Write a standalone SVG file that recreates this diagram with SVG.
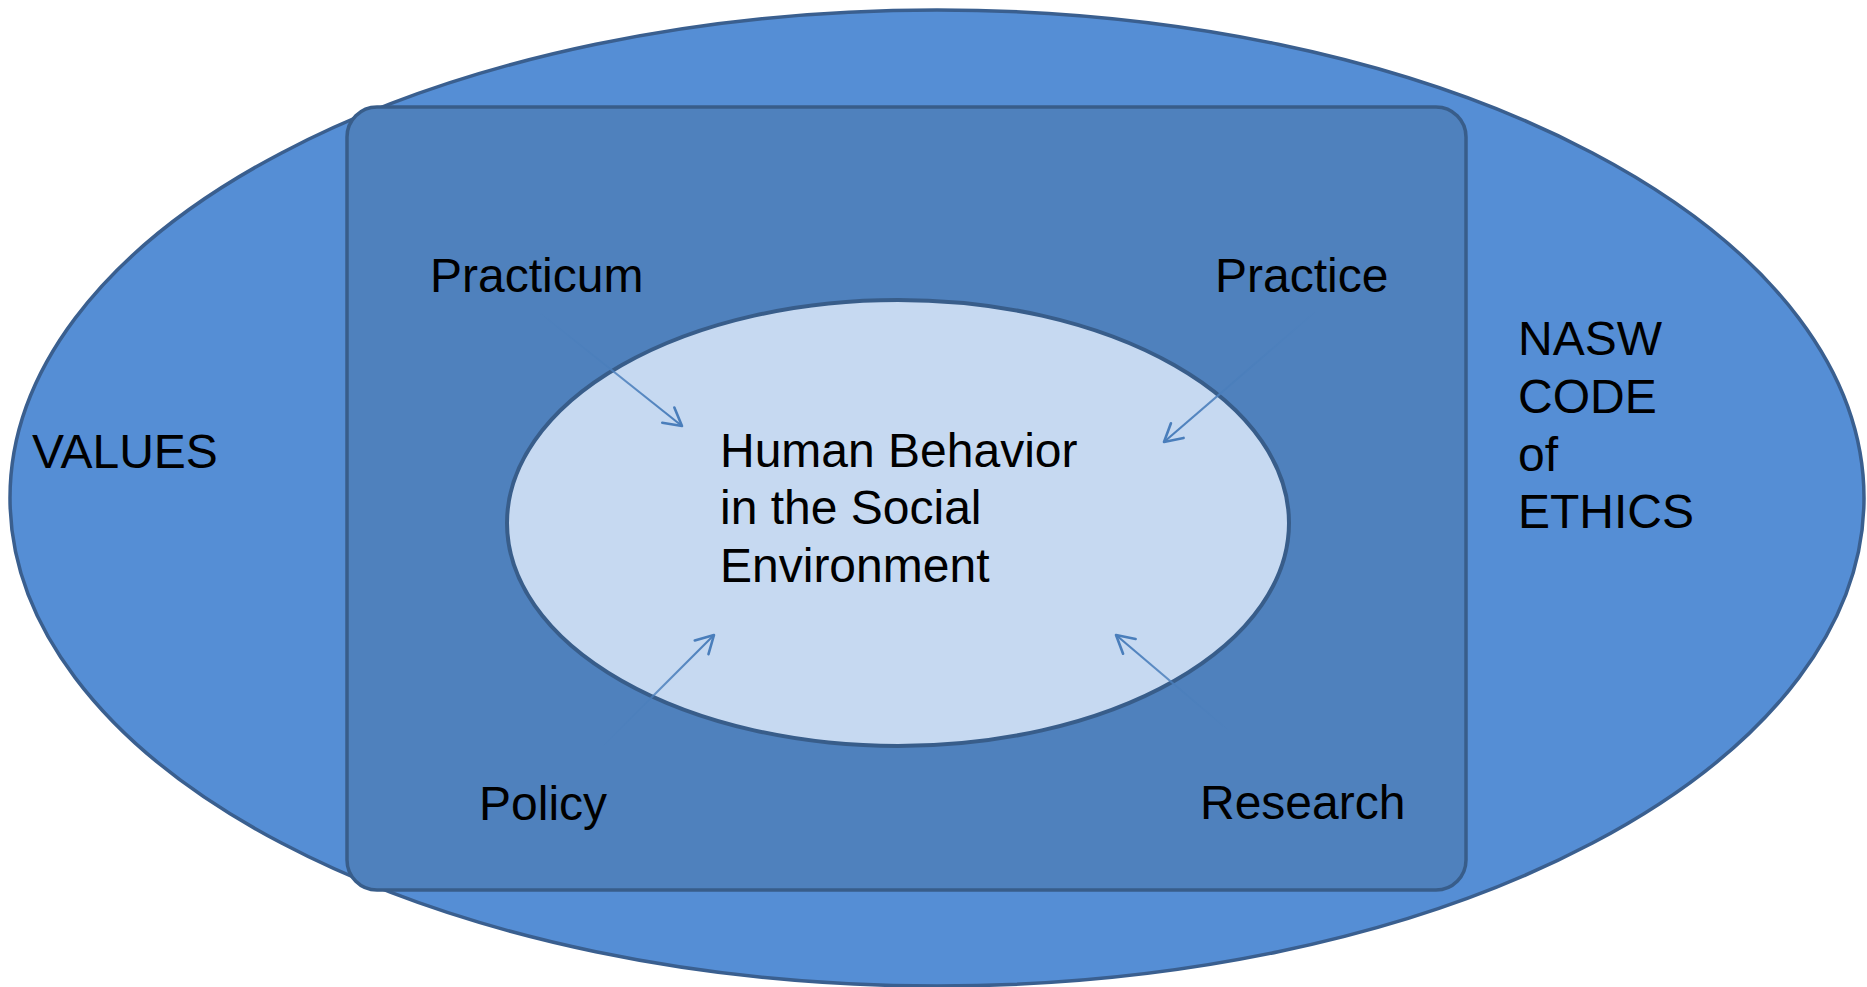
<svg xmlns="http://www.w3.org/2000/svg" width="1867" height="987" viewBox="0 0 1867 987">
  <style>
    .lbl { font-family: "Liberation Sans", Arial, sans-serif; font-size: 48px; fill: #000000; }
    .conn { fill: none; stroke-width: 2.2; }
  </style>
  <defs>
    <marker id="head" markerUnits="userSpaceOnUse" markerWidth="40" markerHeight="40" refX="0" refY="0" orient="auto" overflow="visible">
      <path d="M -17.5 -9.7 L 0 0 L -17.5 9.7" fill="none" stroke="#4A7EBB" stroke-width="2.6" stroke-linecap="round" stroke-linejoin="round"/>
    </marker>
    <linearGradient id="gDR" x1="0" y1="0" x2="1" y2="1">
      <stop offset="0" stop-color="#4A7EBB" stop-opacity="0.1"/>
      <stop offset="0.5" stop-color="#4A7EBB" stop-opacity="0.8"/>
      <stop offset="1" stop-color="#4A7EBB" stop-opacity="1"/>
    </linearGradient>
    <linearGradient id="gDL" x1="1" y1="0" x2="0" y2="1">
      <stop offset="0" stop-color="#4A7EBB" stop-opacity="0.1"/>
      <stop offset="0.5" stop-color="#4A7EBB" stop-opacity="0.8"/>
      <stop offset="1" stop-color="#4A7EBB" stop-opacity="1"/>
    </linearGradient>
    <linearGradient id="gUR" x1="0" y1="1" x2="1" y2="0">
      <stop offset="0" stop-color="#4A7EBB" stop-opacity="0.1"/>
      <stop offset="0.5" stop-color="#4A7EBB" stop-opacity="0.8"/>
      <stop offset="1" stop-color="#4A7EBB" stop-opacity="1"/>
    </linearGradient>
    <linearGradient id="gUL" x1="1" y1="1" x2="0" y2="0">
      <stop offset="0" stop-color="#4A7EBB" stop-opacity="0.1"/>
      <stop offset="0.5" stop-color="#4A7EBB" stop-opacity="0.8"/>
      <stop offset="1" stop-color="#4A7EBB" stop-opacity="1"/>
    </linearGradient>
  </defs>

  <g id="values-ethics">
    <ellipse cx="937" cy="498" rx="927" ry="488" fill="#558ED5" stroke="#3A5F8F" stroke-width="3.5"/>
    <text class="lbl" x="32" y="468">VALUES</text>
    <text class="lbl" x="1518" y="355">NASW</text>
    <text class="lbl" x="1518" y="413">CODE</text>
    <text class="lbl" x="1518" y="471">of</text>
    <text class="lbl" x="1518" y="528">ETHICS</text>
  </g>

  <g id="curriculum">
    <rect x="347" y="107" width="1119" height="783" rx="30" ry="30" fill="#4F81BD" stroke="#385D8A" stroke-width="3.5"/>
    <text class="lbl" x="430" y="292">Practicum</text>
    <text class="lbl" x="1215" y="292">Practice</text>
    <text class="lbl" x="479" y="820">Policy</text>
    <text class="lbl" x="1200" y="819">Research</text>
  </g>

  <g id="hbse">
    <ellipse cx="898" cy="523" rx="391" ry="223" fill="#C6D9F1" stroke="#385D8A" stroke-width="4"/>
    <text class="lbl" x="720" y="467">Human Behavior</text>
    <text class="lbl" x="720" y="524">in the Social</text>
    <text class="lbl" x="720" y="582">Environment</text>
  </g>

  <g id="connectors">
    <line class="conn" x1="540" y1="313" x2="682" y2="426" stroke="url(#gDR)" marker-end="url(#head)"/>
    <line class="conn" x1="1315" y1="312" x2="1164" y2="442" stroke="url(#gDL)" marker-end="url(#head)"/>
    <line class="conn" x1="603" y1="746" x2="714" y2="635" stroke="url(#gUR)" marker-end="url(#head)"/>
    <line class="conn" x1="1228" y1="730" x2="1116" y2="635" stroke="url(#gUL)" marker-end="url(#head)"/>
  </g>
</svg>
